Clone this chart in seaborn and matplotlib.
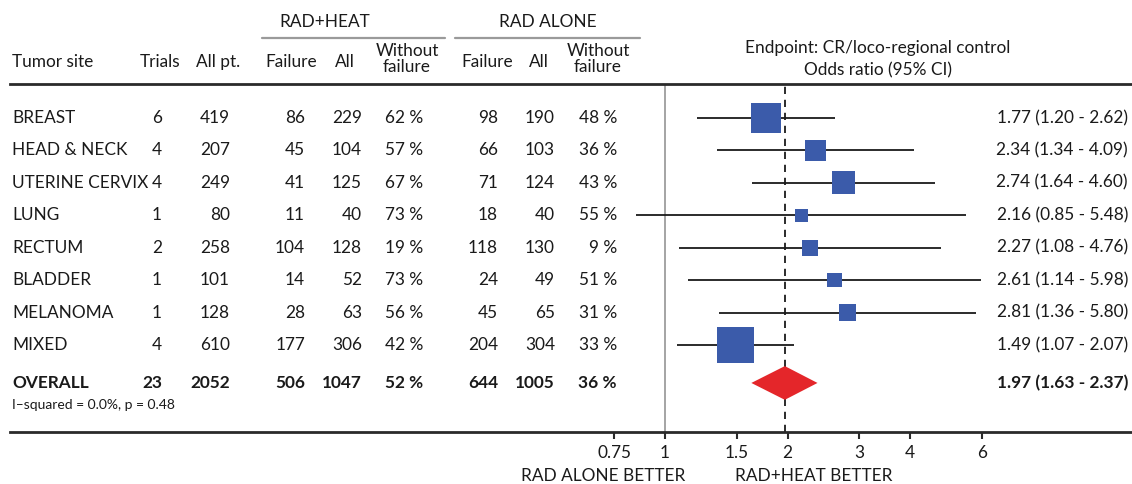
import seaborn as sns
import matplotlib.pyplot as plt
import matplotlib.ticker as mticker
from matplotlib.transforms import blended_transform_factory
import pandas as pd
import numpy as np

# --- data ---------------------------------------------------------------
sites = ['BREAST', 'HEAD & NECK', 'UTERINE CERVIX', 'LUNG', 'RECTUM',
         'BLADDER', 'MELANOMA', 'MIXED']
trials = [6, 4, 4, 1, 2, 1, 1, 4]
all_pt = [419, 207, 249, 80, 258, 101, 128, 610]
heat_fail = [86, 45, 41, 11, 104, 14, 28, 177]
heat_all = [229, 104, 125, 40, 128, 52, 63, 306]
heat_without = [62, 57, 67, 73, 19, 73, 56, 42]
rad_fail = [98, 66, 71, 18, 118, 24, 45, 204]
rad_all = [190, 103, 124, 40, 130, 49, 65, 304]
rad_without = [48, 36, 43, 55, 9, 51, 31, 33]
or_est = [1.77, 2.34, 2.74, 2.16, 2.27, 2.61, 2.81, 1.49]
or_lo = [1.20, 1.34, 1.64, 0.85, 1.08, 1.14, 1.36, 1.07]
or_hi = [2.62, 4.09, 4.60, 5.48, 4.76, 5.98, 5.80, 2.07]

overall_row = ['OVERALL', 23, 2052, 506, 1047, 52, 644, 1005, 36]
overall_or = [1.97, 1.63, 2.37]
heterogeneity = 'I\u2013squared = 0.0%, p = 0.48'

x_ticks = [0.75, 1, 1.5, 2, 3, 4, 6]

# --- layout -------------------------------------------------------------
W, H = 1132, 484
BLUE = '#3B5BAA'
RED = '#E4262A'
INK = '#1a1a1a'
FONT = 'Lato'
FS = 12.4

ROW_GAP = 32.43            # px between rows
ROW0_PX = 118              # px centre of first row
OVERALL_Y = 8.17           # overall row position in row units
AX_TOP_PX, AX_BOT_PX = 84, 432
AX_LEFT_PX = 10
ONE_PX, PX_PER_DOUBLING = 665, 122.5

# right edges of the numeric columns (px)
col_right = [162, 230, 305, 362, 423, 498, 555, 617]

df = pd.DataFrame({'site': sites, 'or_': or_est, 'lo': or_lo, 'hi': or_hi})
df['row'] = np.arange(len(df))
se = (np.log(df['hi']) - np.log(df['lo'])) / (2 * 1.96)
df['w'] = 1 / se ** 2

sns.set_theme(style='white')
plt.rcParams['font.family'] = [FONT, 'DejaVu Sans']
plt.rcParams['text.color'] = INK

fig = plt.figure(figsize=(W / 100, H / 100), dpi=100)
ax = fig.add_axes([AX_LEFT_PX / W, 1 - AX_BOT_PX / H,
                   1 - AX_LEFT_PX / W, (AX_BOT_PX - AX_TOP_PX) / H])
ax.set_xscale('log')
ax.set_xlim(2 ** ((AX_LEFT_PX - ONE_PX) / PX_PER_DOUBLING),
            2 ** ((W - ONE_PX) / PX_PER_DOUBLING))
ax.set_ylim((AX_BOT_PX - ROW0_PX) / ROW_GAP, (AX_TOP_PX - ROW0_PX) / ROW_GAP)

# reference lines
ax.axvline(1, color='#8c8c8c', lw=1.1, zorder=1)
ax.axvline(overall_or[0], color=INK, lw=1.3, ls=(0, (4, 3.2)), zorder=1)

# confidence intervals and squares
ax.hlines(df['row'], df['lo'], df['hi'], color=INK, lw=1.3, zorder=2)
k = 19.3
sns.scatterplot(data=df, x='or_', y='row', size='w',
                sizes=(k * df['w'].min(), k * df['w'].max()),
                marker='s', color=BLUE, linewidth=0, legend=False,
                zorder=3, ax=ax)

# pooled diamond
est, lo, hi = overall_or
h = 0.52
ax.fill([lo, est, hi, est], [OVERALL_Y, OVERALL_Y - h, OVERALL_Y, OVERALL_Y + h],
        color=RED, lw=0, zorder=3)

# axes styling
for s in ['left', 'right']:
    ax.spines[s].set_visible(False)
for s in ['top', 'bottom']:
    ax.spines[s].set_linewidth(2)
    ax.spines[s].set_color('#2a2a2a')
ax.set_xticks(x_ticks)
ax.xaxis.set_major_formatter(mticker.FuncFormatter(lambda v, p: f'{v:g}'))
ax.xaxis.set_minor_locator(mticker.NullLocator())
ax.set_yticks([])
ax.tick_params(axis='x', direction='out', length=5, width=1.5, color='#2a2a2a',
               labelsize=FS, labelcolor=INK, pad=4, bottom=True)
ax.set_xlabel('')
ax.set_ylabel('')

# --- table text -----------------------------------------------------------
tr = blended_transform_factory(fig.transFigure, ax.transData)


def fx(px):
    return px / W


def fy(py):
    return 1 - py / H


for i in range(len(sites)):
    vals = [trials[i], all_pt[i], heat_fail[i], heat_all[i], f'{heat_without[i]} %',
            rad_fail[i], rad_all[i], f'{rad_without[i]} %']
    fig.text(fx(12), i, sites[i], transform=tr, ha='left', va='center', fontsize=FS)
    for x, v in zip(col_right, vals):
        fig.text(fx(x), i, str(v), transform=tr, ha='right', va='center', fontsize=FS)
    fig.text(fx(1128), i, f'{or_est[i]:.2f} ({or_lo[i]:.2f} - {or_hi[i]:.2f})',
             transform=tr, ha='right', va='center', fontsize=FS)

ov = overall_row
fig.text(fx(12), OVERALL_Y, ov[0], transform=tr, ha='left', va='center',
         fontsize=FS, fontweight='bold')
ov_vals = [ov[1], ov[2], ov[3], ov[4], f'{ov[5]} %', ov[6], ov[7], f'{ov[8]} %']
for x, v in zip(col_right, ov_vals):
    fig.text(fx(x), OVERALL_Y, str(v), transform=tr, ha='right', va='center',
             fontsize=FS, fontweight='bold')
fig.text(fx(1128), OVERALL_Y,
         f'{overall_or[0]:.2f} ({overall_or[1]:.2f} - {overall_or[2]:.2f})',
         transform=tr, ha='right', va='center', fontsize=FS, fontweight='bold')
fig.text(fx(12), fy(405), heterogeneity, ha='left', va='center', fontsize=10)

# --- headers --------------------------------------------------------------
hy = fy(62)
fig.text(fx(12), hy, 'Tumor site', ha='left', va='center', fontsize=FS)
fig.text(fx(160), hy, 'Trials', ha='center', va='center', fontsize=FS)
fig.text(fx(218), hy, 'All pt.', ha='center', va='center', fontsize=FS)
for (fail_x, all_x, wo_x) in [(291, 345, 407), (487, 539, 598)]:
    fig.text(fx(fail_x), hy, 'Failure', ha='center', va='center', fontsize=FS)
    fig.text(fx(all_x), hy, 'All', ha='center', va='center', fontsize=FS)
    fig.text(fx(wo_x), fy(59), 'Without\nfailure', ha='center', va='center',
             fontsize=FS, linespacing=1.0)

for label, cx, x0, x1 in [('RAD+HEAT', 325, 262, 445), ('RAD ALONE', 548, 455, 640)]:
    fig.text(fx(cx), fy(22), label, ha='center', va='center', fontsize=FS)
    fig.add_artist(plt.Line2D([fx(x0), fx(x1)], [fy(38), fy(38)],
                              transform=fig.transFigure, color='#9a9a9a', lw=1.6))

fig.text(fx(878), fy(48), 'Endpoint: CR/loco-regional control', ha='center',
         va='center', fontsize=FS)
fig.text(fx(878), fy(70), 'Odds ratio (95% CI)', ha='center', va='center', fontsize=FS)

fig.text(fx(685), fy(476), 'RAD ALONE BETTER', ha='right', va='center', fontsize=FS)
fig.text(fx(735), fy(476), 'RAD+HEAT BETTER', ha='left', va='center', fontsize=FS)

fig.savefig('out.png', dpi=100)
